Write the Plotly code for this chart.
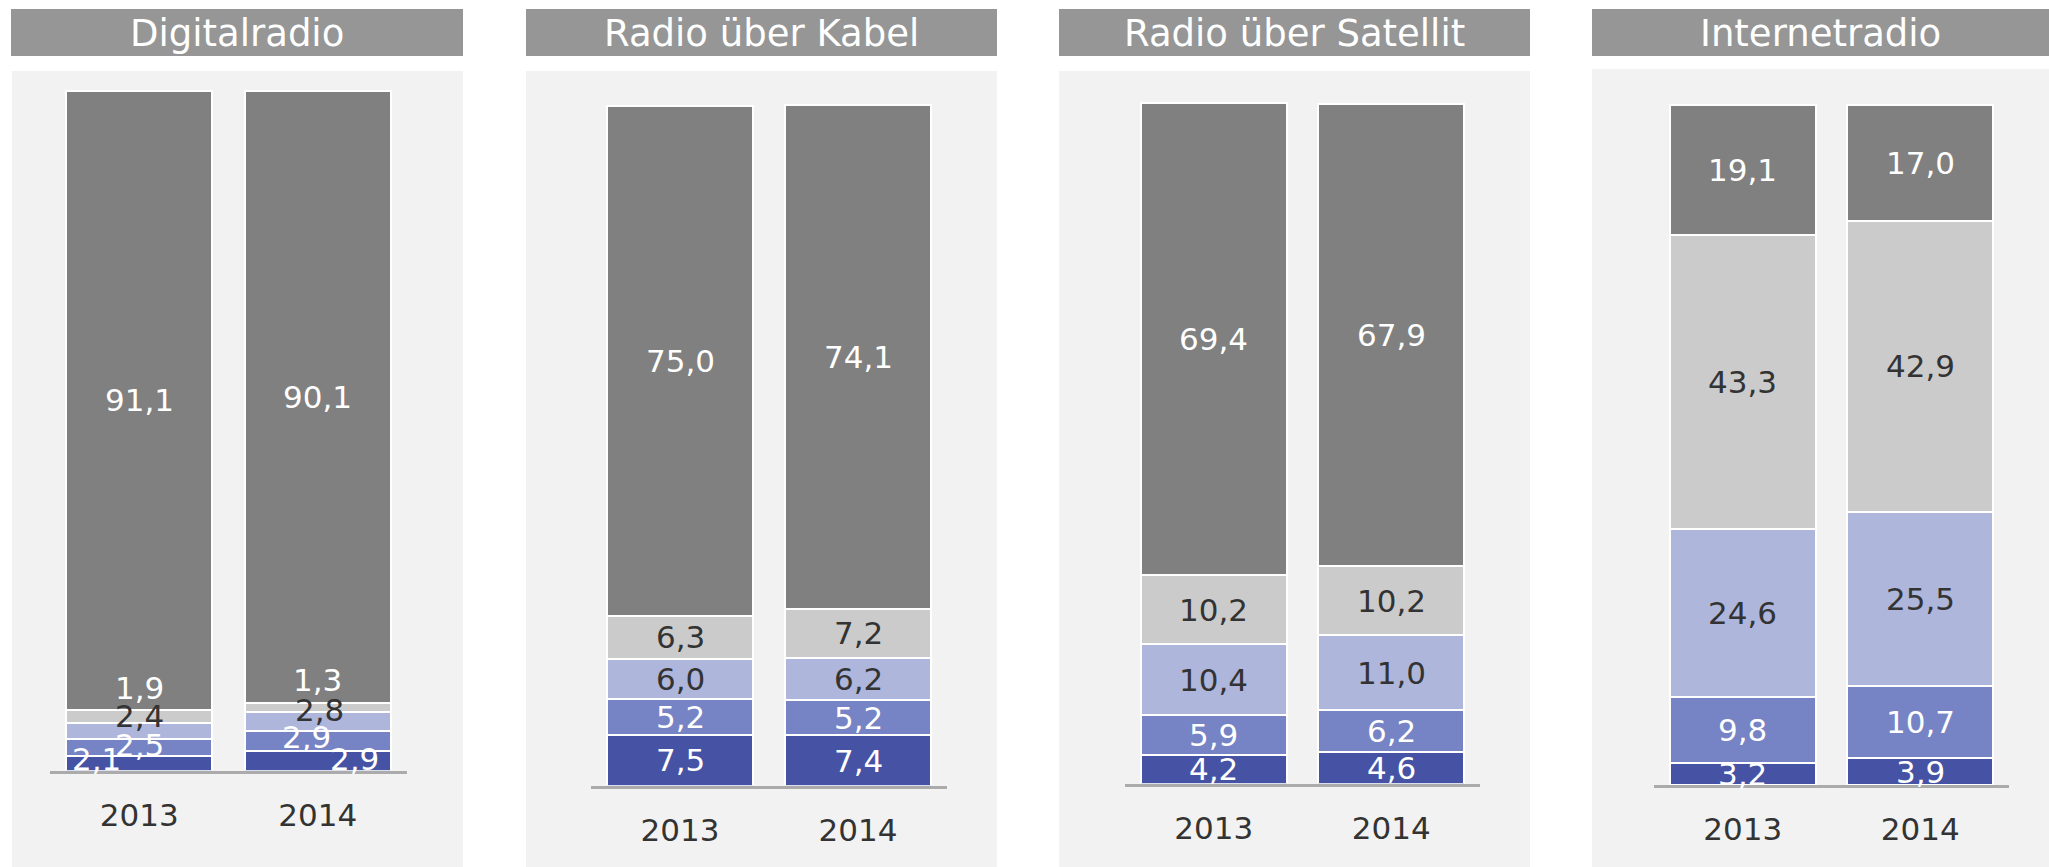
import plotly.graph_objects as go

W, H = 2049, 867

# ---------------- data ----------------
years = ["2013", "2014"]
panel_titles = ["Digitalradio", "Radio über Kabel", "Radio über Satellit", "Internetradio"]

# stacked segments, bottom to top; each list = [panel][year]
seg1 = [[2.1, 2.9], [7.5, 7.4], [4.2, 4.6], [3.2, 3.9]]
seg2 = [[2.5, 2.9], [5.2, 5.2], [5.9, 6.2], [9.8, 10.7]]
seg3 = [[2.4, 2.8], [6.0, 6.2], [10.4, 11.0], [24.6, 25.5]]
seg4 = [[1.9, 1.3], [6.3, 7.2], [10.2, 10.2], [43.3, 42.9]]
seg5 = [[91.1, 90.1], [75.0, 74.1], [69.4, 67.9], [19.1, 17.0]]
series = [seg1, seg2, seg3, seg4, seg5]

# ---------------- style ----------------
seg_colors = ["#4653A5", "#7683C4", "#AEB6DC", "#CBCBCB", "#808080"]
DARK = "#333333"
label_colors = ["white", "white", DARK, DARK, "white"]
# Digitalradio panel: manually moved labels (xshift, yshift) per series per year
digital_shift = [
    [(-43, 5), (37, 2)],
    [(0, 3), (-11, 4)],
    [(0, 15), (2, 12)],
    [(0, 29), (0, 28)],
    [(0, 0), (0, 0)],
]
digital_label_colors = ["white", "white", DARK, "white", "white"]

FONT = "DejaVu Sans"
bg_boxes = [(12, 463, 71, 867), (526, 997, 71, 867), (1059, 1530, 71, 867), (1592, 2049, 69, 867)]
title_boxes = [(11, 463), (526, 997), (1059, 1530), (1592, 2049)]
axis_x = [(50, 407), (591, 947), (1125, 1480), (1654, 2009)]
baselines = [770.7, 785.7, 783.7, 785.0]
SCALE = 6.80  # px per percentage point
YMAX = 100.5

fig = go.Figure()
shapes = []
annotations = []

for p in range(4):
    xa = "x" if p == 0 else f"x{p+1}"
    ya = "y" if p == 0 else f"y{p+1}"
    for j, seg in enumerate(series):
        fig.add_trace(go.Bar(
            x=years, y=seg[p], xaxis=xa, yaxis=ya,
            marker=dict(color=seg_colors[j], line=dict(color="white", width=2)),
            showlegend=False, hoverinfo="skip",
        ))
    # labels
    for k, yr in enumerate(years):
        cum = 0.0
        for j, seg in enumerate(series):
            v = seg[p][k]
            mid = cum + v / 2
            cum += v
            if p == 0:
                xs, ys = digital_shift[j][k]
                col = digital_label_colors[j]
            else:
                xs, ys = 0, 0
                col = label_colors[j]
            annotations.append(dict(
                x=k, y=mid, xref=xa, yref=ya, text=f"{v:.1f}".replace(".", ","),
                showarrow=False, xshift=xs, yshift=ys,
                font=dict(family=FONT, size=31, color=col),
                xanchor="center", yanchor="middle",
            ))
    # backgrounds
    bx0, bx1, by0, by1 = bg_boxes[p]
    shapes.append(dict(type="rect", xref="paper", yref="paper", layer="below",
                       x0=bx0 / W, x1=bx1 / W, y0=1 - by1 / H, y1=1 - by0 / H,
                       fillcolor="#F2F2F2", line=dict(width=0)))
    tx0, tx1 = title_boxes[p]
    shapes.append(dict(type="rect", xref="paper", yref="paper", layer="below",
                       x0=tx0 / W, x1=tx1 / W, y0=1 - 56 / H, y1=1 - 9 / H,
                       fillcolor="#959695", line=dict(width=0)))
    annotations.append(dict(
        x=(tx0 + tx1) / 2 / W, y=1 - 33 / H, xref="paper", yref="paper",
        text=panel_titles[p], showarrow=False, xanchor="center", yanchor="middle",
        font=dict(family=FONT, size=37, color="white"),
    ))
    # axes
    ax0, ax1 = axis_x[p]
    b = baselines[p]
    top = b - YMAX * SCALE
    fig.update_layout(**{
        ("xaxis" if p == 0 else f"xaxis{p+1}"): dict(
            domain=[ax0 / W, ax1 / W], type="category", range=[-0.5, 1.5],
            showline=True, linecolor="#ABABAB", linewidth=2.5,
            ticks="outside", ticklen=15, tickcolor="rgba(0,0,0,0)",
            tickfont=dict(family=FONT, size=31, color=DARK),
            showgrid=False, zeroline=False, anchor=ya, fixedrange=True,
        ),
        ("yaxis" if p == 0 else f"yaxis{p+1}"): dict(
            domain=[1 - b / H, 1 - top / H], range=[0, YMAX], visible=False,
            showgrid=False, zeroline=False, anchor=xa, fixedrange=True,
        ),
    })

fig.update_layout(
    width=W, height=H, margin=dict(l=0, r=0, t=0, b=0),
    barmode="stack", bargap=0.18,
    paper_bgcolor="white", plot_bgcolor="rgba(0,0,0,0)",
    shapes=shapes, annotations=annotations,
    font=dict(family=FONT),
)

fig.write_html(
    "out.html",
    config={"displayModeBar": False},
    post_script="document.body.style.margin='0px';document.body.style.overflow='hidden';",
)
